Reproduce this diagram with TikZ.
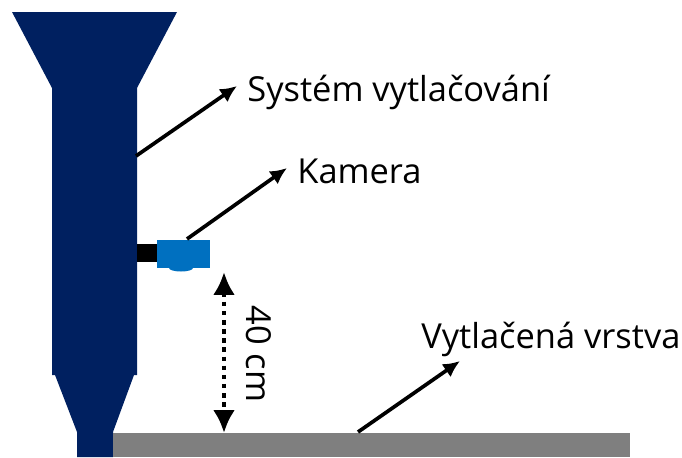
\documentclass[tikz,border=0pt]{standalone}
\usepackage{fontspec}
\setmainfont{Open Sans}
\usetikzlibrary{arrows.meta,positioning,calc}
\definecolor{navy}{HTML}{002060}
\definecolor{camblue}{HTML}{0070C0}
\definecolor{layergray}{HTML}{7F7F7F}

\begin{document}
\begin{tikzpicture}[x=0.02cm,y=-0.02cm,>=Latex]
\tikzstyle{label}=[inner sep=0pt, anchor=base west, font=\fontsize{19.6pt}{24pt}\selectfont]
\tikzstyle{pointer}=[line width=2.1pt, -{Latex[length=9.5pt,width=9pt]}]
\useasboundingbox (0,0) rectangle (682,457);
% extruder body
\fill[navy] (12,12) -- (177,12) -- (137,88) -- (137,375) -- (134,375) -- (113,432) -- (113,457) -- (77,457) -- (77,432) -- (55,375) -- (52,375) -- (52,88) -- cycle;
% camera
\fill[black] (137,244) rectangle (158,262);
\fill[camblue] (181,268) ellipse (12 and 3.5);
\fill[camblue] (157,240) rectangle (210,268);
% printed layer
\fill[layergray] (113,433) rectangle (630,457);

\node[label] (system) at (247,101) {Systém vytlačování};
\node[label] (kamera) at (297,183) {Kamera};
\node[label] (vrstva) at (421,348) {Vytlačená vrstva};
\node[label, rotate=-90] (dist) at (246,305) {40 cm};

\coordinate (systemtail) at (136,156);
\coordinate (systemtip) at (237,86);
\coordinate (kameratail) at (187,239);
\coordinate (kameratip) at (287,168);
\coordinate (vrstvatail) at (358,432);
\coordinate (vrstvatip) at (460,361);
\coordinate (disttop) at (224,272);
\coordinate (distbot) at (224,433);

\draw[pointer] (systemtail) -- (systemtip);
\draw[pointer] (kameratail) -- (kameratip);
\draw[pointer] (vrstvatail) -- (vrstvatip);
\draw[line width=2.6pt, dash pattern=on 2.6pt off 2.6pt, {Latex[length=13pt,width=12.5pt]}-{Latex[length=13pt,width=12.5pt]}] (disttop) -- (distbot);
\end{tikzpicture}
\end{document}
